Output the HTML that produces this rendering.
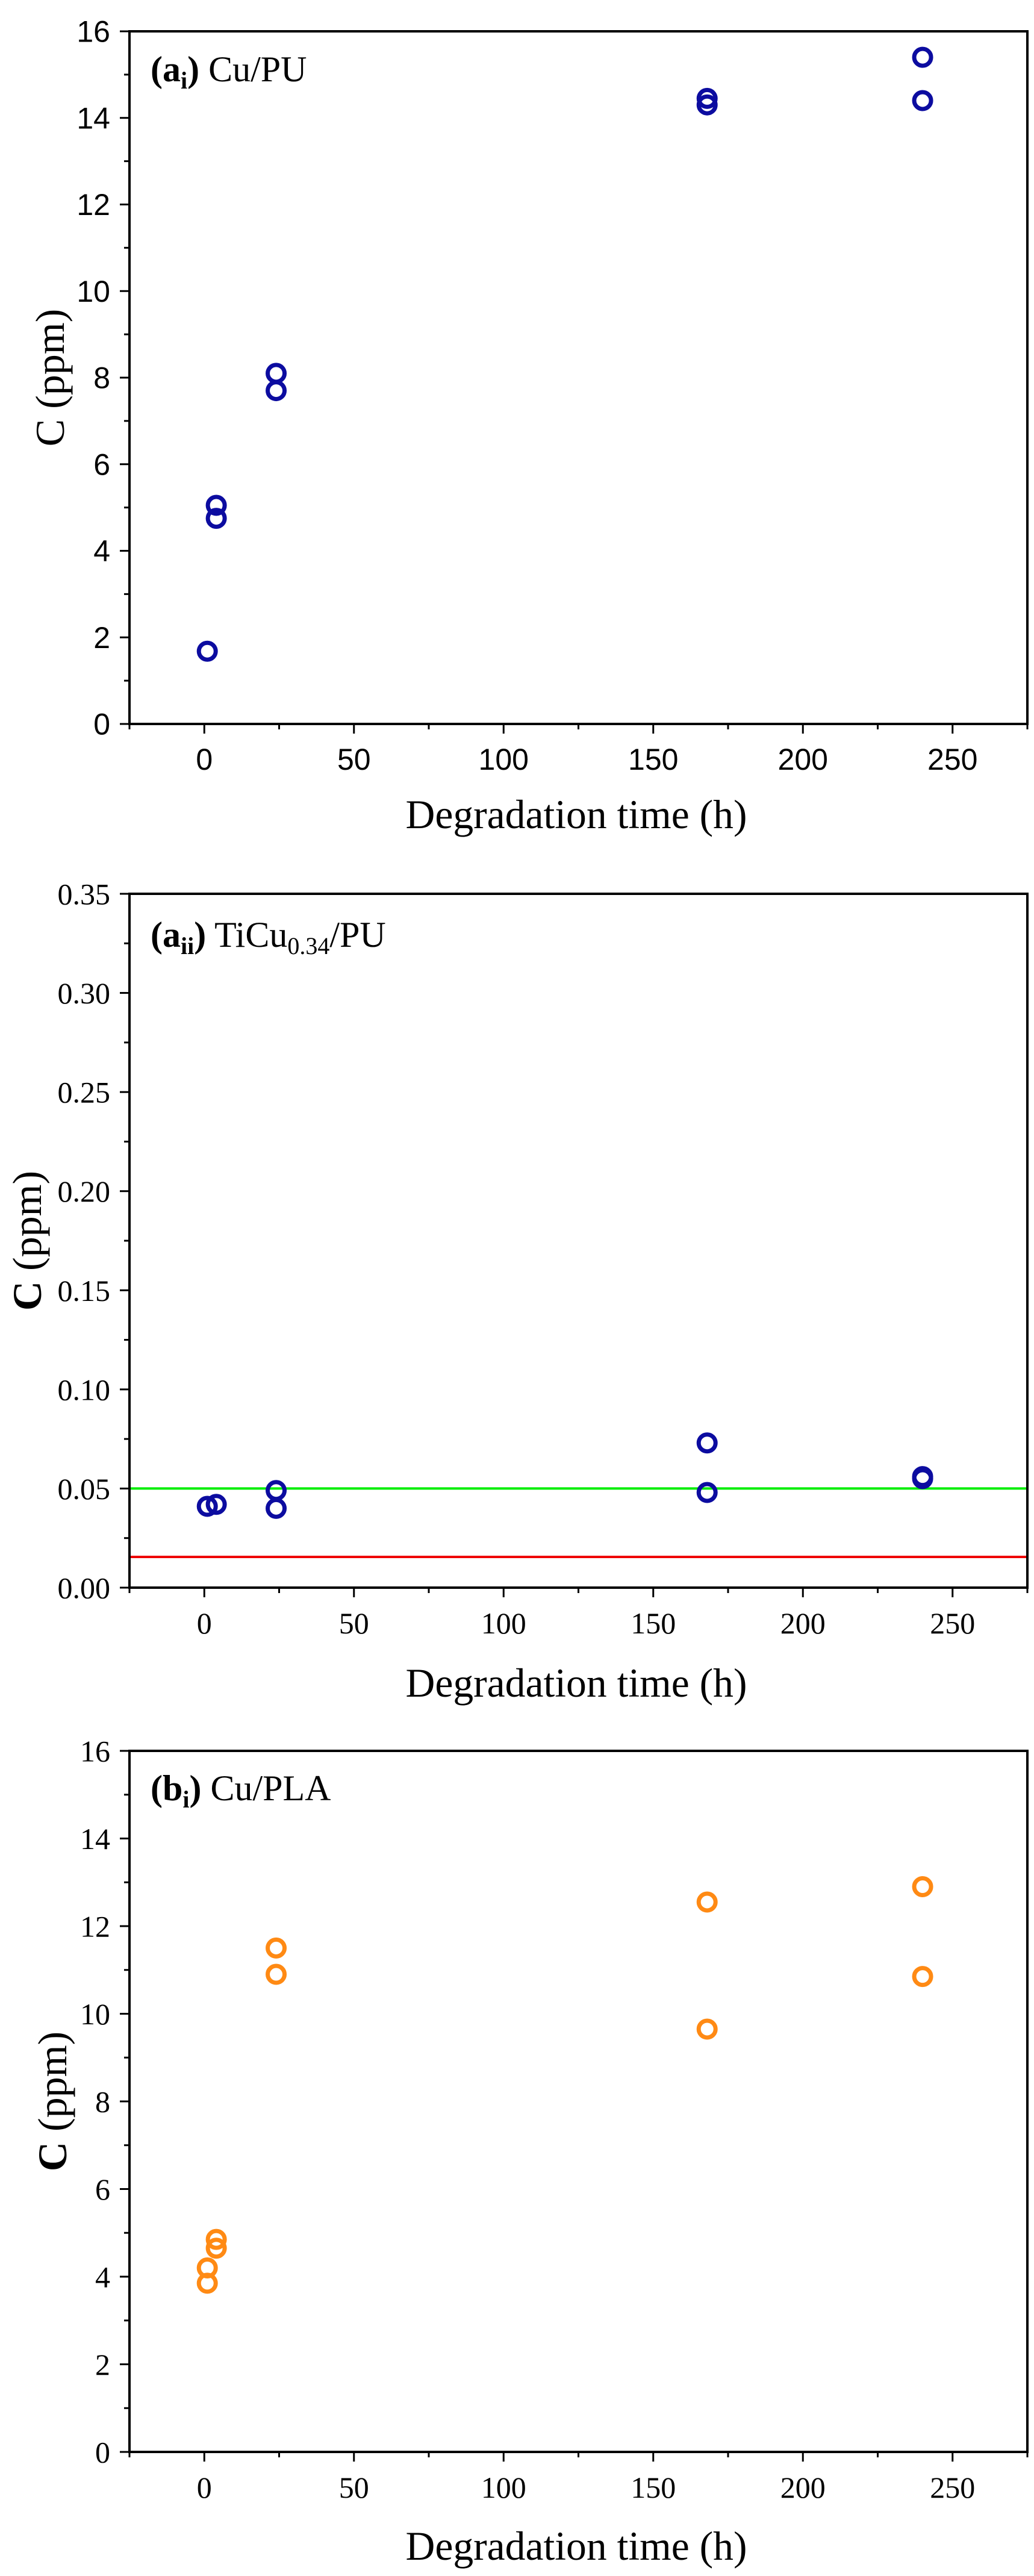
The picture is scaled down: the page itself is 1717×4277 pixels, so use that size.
<!DOCTYPE html>
<html><head><meta charset="utf-8">
<style>html,body{margin:0;padding:0;background:#fff}svg{display:block}</style>
</head><body>
<svg id="fig" width="1717" height="4277" viewBox="0 0 1717 4277" xmlns="http://www.w3.org/2000/svg"></svg>
<script>
// shared x axis
const xTicks = [0, 50, 100, 150, 200, 250];
const xMinor = [-25, 25, 75, 125, 175, 225, 275];
// panel a_i : Cu/PU
const aiTimes = [1, 4, 4, 24, 24, 168, 168, 240, 240];
const aiValues = [1.68, 5.05, 4.75, 8.1, 7.7, 14.45, 14.3, 15.4, 14.4];
const aiYTicks = [0, 2, 4, 6, 8, 10, 12, 14, 16];
const aiYLabels = ["0","2","4","6","8","10","12","14","16"];
// panel a_ii : TiCu0.34/PU
const aiiTimes = [1, 4, 24, 24, 168, 168, 240, 240];
const aiiValues = [0.041, 0.042, 0.049, 0.040, 0.073, 0.048, 0.056, 0.055];
const aiiYTicks = [0, 0.05, 0.10, 0.15, 0.20, 0.25, 0.30, 0.35];
const aiiYLabels = ["0.00","0.05","0.10","0.15","0.20","0.25","0.30","0.35"];
const aiiGreenLine = [0.05];
const aiiRedLine = [0.0155];
// panel b_i : Cu/PLA
const biTimes = [1, 1, 4, 4, 24, 24, 168, 168, 240, 240];
const biValues = [4.2, 3.85, 4.85, 4.65, 11.5, 10.9, 12.55, 9.65, 12.9, 10.85];
const biYTicks = [0, 2, 4, 6, 8, 10, 12, 14, 16];
const biYLabels = ["0","2","4","6","8","10","12","14","16"];

const NS = "http://www.w3.org/2000/svg";
const svg = document.getElementById("fig");
function mk(tag, attrs, parent) {
  const e = document.createElementNS(NS, tag);
  for (const k in attrs) e.setAttribute(k, attrs[k]);
  (parent || svg).appendChild(e);
  return e;
}
function panel(cfg) {
  const g = mk("g", {});
  
  
  const L = 215, R = 1706, T = cfg.top, B = cfg.bottom;
  const xs = v => L + (v + 25) / 300 * (R - L);
  const ys = v => B - (v - cfg.ymin) / (cfg.ymax - cfg.ymin) * (B - T);
  const frame = mk("rect", {x: L, y: T, width: R - L, height: B - T, fill: "none", stroke: "#000", "stroke-width": 4}, g);
  
  
  (cfg.hlines || []).forEach(h => {
    const ln = mk("line", {x1: L + 2, x2: R - 2, y1: ys(h.v), y2: ys(h.v), stroke: h.c, "stroke-width": 4}, g);
    
    
  });
  cfg.yTicks.forEach((v, i) => {
    mk("line", {x1: L - 16, x2: L, y1: ys(v), y2: ys(v), stroke: "#000", "stroke-width": 3}, g);
    const t = mk("text", {x: 183, y: ys(v) + cfg.tickFs * 0.35, "text-anchor": "end", "font-size": cfg.tickFs, "font-family": cfg.tickFont}, g);
    t.textContent = cfg.yLabels[i];
    
    
    if (i < cfg.yTicks.length - 1) {
      const m = (v + cfg.yTicks[i + 1]) / 2;
      mk("line", {x1: L - 9, x2: L, y1: ys(m), y2: ys(m), stroke: "#000", "stroke-width": 3}, g);
    }
  });
  xTicks.forEach(v => {
    mk("line", {x1: xs(v), x2: xs(v), y1: B, y2: B + 16, stroke: "#000", "stroke-width": 3}, g);
    const t = mk("text", {x: xs(v), y: B + 76, "text-anchor": "middle", "font-size": cfg.tickFs, "font-family": cfg.tickFont}, g);
    t.textContent = String(v);
    
    
  });
  xMinor.forEach(v => {
    mk("line", {x1: xs(v), x2: xs(v), y1: B, y2: B + 9, stroke: "#000", "stroke-width": 3}, g);
  });
  const xt = mk("text", {x: 957, y: B + cfg.xTitleOff, "text-anchor": "middle", "font-size": 68, "font-family": "Liberation Serif, serif", textLength: 567, lengthAdjust: "spacingAndGlyphs"}, g);
  xt.textContent = "Degradation time (h)";
  
  
  const cy = (T + B) / 2;
  const yt = mk("text", {x: 0, y: 0, "text-anchor": "middle", "font-size": 68, "font-family": "Liberation Serif, serif", transform: "translate(" + cfg.yTitleX + "," + cy + ") rotate(-90)"}, g);
  yt.innerHTML = '<tspan font-weight="' + cfg.cWeight + '">C</tspan> (ppm)';
  
  
  const pl = mk("text", {x: 250, y: T + cfg.labelOff, "font-size": 60, "font-family": "Liberation Serif, serif"}, g);
  pl.innerHTML = cfg.labelHtml;
  
  
  cfg.xs.forEach((x, i) => {
    const c = mk("circle", {cx: xs(x), cy: ys(cfg.vals[i]), r: 14, fill: "none", stroke: cfg.color, "stroke-width": 7}, g);
    
    
  });
}
panel({name: "panel-ai-cu-pu", top: 52, bottom: 1202, ymin: 0, ymax: 16, yTicks: aiYTicks, yLabels: aiYLabels,
  tickFs: 50, tickFont: "Liberation Sans, sans-serif", xTitleOff: 173, cWeight: "normal", labelOff: 83, yTitleX: 106,
  labelHtml: '<tspan font-weight="bold">(a<tspan font-size="40" dy="12">i</tspan><tspan dy="-12">)</tspan></tspan> Cu/PU',
  xs: aiTimes, vals: aiValues, color: "#0c0ca0"});
panel({name: "panel-aii-ticu-pu", top: 1484, bottom: 2636, ymin: 0, ymax: 0.35, yTicks: aiiYTicks, yLabels: aiiYLabels,
  tickFs: 50, tickFont: "Liberation Serif, serif", xTitleOff: 181, cWeight: "bold", labelOff: 88, yTitleX: 68,
  hlines: [{v: aiiGreenLine[0], c: "#00ee00", name: "green-limit-line"}, {v: aiiRedLine[0], c: "#ee0000", name: "red-limit-line"}],
  labelHtml: '<tspan font-weight="bold">(a<tspan font-size="40" dy="12">ii</tspan><tspan dy="-12">)</tspan></tspan> TiCu<tspan font-size="40" dy="12">0.34</tspan><tspan dy="-12">/PU</tspan>',
  xs: aiiTimes, vals: aiiValues, color: "#0c0ca0"});
panel({name: "panel-bi-cu-pla", top: 2907, bottom: 4071, ymin: 0, ymax: 16, yTicks: biYTicks, yLabels: biYLabels,
  tickFs: 50, tickFont: "Liberation Serif, serif", xTitleOff: 179, cWeight: "bold", labelOff: 82, yTitleX: 110,
  labelHtml: '<tspan font-weight="bold">(b<tspan font-size="40" dy="12">i</tspan><tspan dy="-12">)</tspan></tspan> Cu/PLA',
  xs: biTimes, vals: biValues, color: "#ff8a14"});
</script>
</body></html>
